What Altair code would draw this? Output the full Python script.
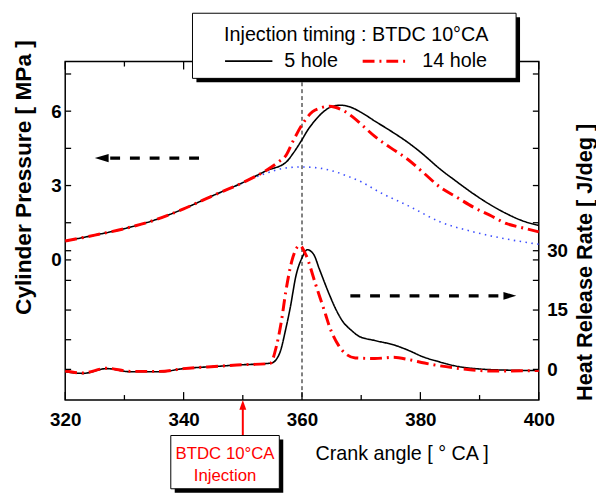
import altair as alt
import pandas as pd

FONT = "Liberation Sans"

# ---------------- data ----------------
p_crank_5 = [320, 325, 330, 335, 340, 345, 350, 354, 357.3, 358.5, 360, 361, 362.3, 363.5, 365, 366.5,
             368, 370, 372.3, 375, 378, 380, 383.4, 386, 389, 392, 394.6, 397, 400]
p_5 = [0.76, 1.0, 1.26, 1.6, 2.06, 2.6, 3.12, 3.6, 3.94, 4.3, 4.85, 5.25, 5.65, 5.95, 6.18, 6.24,
       6.18, 5.95, 5.6, 5.2, 4.72, 4.35, 3.65, 3.18, 2.66, 2.2, 1.86, 1.6, 1.39]

p_crank_14 = [320, 325, 330, 335, 340, 345, 350, 354, 356, 357.3, 358.5, 360, 361.8, 363, 364.6, 365.6,
              367, 368.5, 370.1, 372.3, 375, 377.9, 380.5, 383.4, 386, 389, 392, 394.6, 397, 400]
p_14 = [0.76, 1.0, 1.26, 1.6, 2.06, 2.6, 3.12, 3.62, 3.95, 4.22, 4.8, 5.45, 5.98, 6.12, 6.2, 6.16,
        6.02, 5.78, 5.45, 4.98, 4.52, 4.05, 3.52, 2.92, 2.55, 2.12, 1.77, 1.46, 1.31, 1.13]

m_crank = [346, 349, 352, 354, 357, 360, 363, 365, 368, 370, 373.2, 377.9, 383.4, 389, 394.6, 400]
m_p = [2.7, 3.0, 3.33, 3.5, 3.7, 3.75, 3.7, 3.6, 3.35, 3.15, 2.72, 2.19, 1.53, 1.13, 0.84, 0.63]

h_crank_5 = [320, 323, 327, 331, 336, 340, 346, 349, 354.8, 356.2, 357.3, 358, 359, 360, 360.9, 362,
             362.9, 364.6, 365.7, 366.8, 368.4, 369.6, 372.3, 375.7, 378, 380.4, 383, 386.5, 390, 395, 400]
h_5 = [-0.6, -1.0, 0.2, -0.6, -0.6, 0.2, 0.8, 1.1, 1.6, 4.0, 10.5, 15.5, 23.8, 28.2, 30.25, 29.0,
       25.5, 19.0, 15.25, 12.3, 9.8, 8.4, 7.3, 6.1, 4.8, 3.2, 2.0, 0.7, 0.1, -0.2, -0.3]

h_crank_14 = [320, 323, 327, 331, 336, 340, 346, 349, 354.6, 355.7, 356.5, 357.3, 358.3, 359.6, 360.7,
              362.3, 364, 364.6, 366.2, 367.5, 369, 372.3, 375.4, 378, 380.7, 386.5, 392, 400]
h_14 = [-0.4, -0.9, 0.3, -0.5, -0.5, 0.2, 0.8, 1.1, 1.5, 6.0, 12.0, 20.0, 27.5, 31.3, 28.8,
        21.5, 13.8, 11.0, 6.0, 3.8, 2.9, 2.75, 3.05, 2.5, 1.6, 0.25, -0.4, -0.3]

series_names = ["5 hole", "14 hole"]
x_major = [320, 340, 360, 380, 400]
x_minor = [330, 350, 370, 390]
p_labels = [0, 3, 6]
p_minor = [1.5, 4.5, 7.5]
h_labels = [0, 15, 30]
h_minor = [7.5, 22.5]

W, H = 480, 343

# ---------------- scales / axes ----------------
x_scale = alt.Scale(domain=[320, 400], nice=False, zero=False)
x_axis = alt.Axis(values=x_major, ticks=False, domain=False, grid=False, labelFlush=False,
                  labelFont=FONT, labelFontSize=19, labelFontWeight="bold", labelPadding=11,
                  title="Crank angle [ ° CA ]", titleFont=FONT, titleFontSize=20,
                  titleFontWeight="normal", titleX=341, titleY=54, titleAlign="center",
                  titleBaseline="middle")
p_scale = alt.Scale(domain=[-5.65, 8.0], nice=False, zero=False)
p_axis = alt.Axis(orient="left", values=p_labels, ticks=False, domain=False, grid=False,
                  labelFont=FONT, labelFontSize=19, labelFontWeight="bold", labelPadding=4,
                  title="Cylinder Pressure [ MPa ]", titleFont=FONT, titleFontSize=23,
                  titleFontWeight="bold", titleX=-42, titleY=117, titleAngle=270,
                  titleAlign="center", titleBaseline="middle", titleLimit=400)
h_scale = alt.Scale(domain=[-7.73, 77.8], nice=False, zero=False)
h_axis = alt.Axis(orient="right", values=h_labels, ticks=False, domain=False, grid=False,
                  labelFont=FONT, labelFontSize=19, labelFontWeight="bold", labelPadding=8,
                  title="Heat Release Rate [ J/deg ]", titleFont=FONT, titleFontSize=22,
                  titleFontWeight="bold", titleX=46, titleY=203, titleAngle=270,
                  titleAlign="center", titleBaseline="middle", titleLimit=400)


def X(f):
    return alt.X(f, type="quantitative", scale=x_scale, axis=x_axis)


def YP(f):
    return alt.Y(f, type="quantitative", scale=p_scale, axis=p_axis)


def YH(f):
    return alt.Y(f, type="quantitative", scale=h_scale, axis=h_axis)


legend = alt.Legend(orient="none", legendX=161, legendY=-37, direction="horizontal",
                    title="Injection timing : BTDC 10°CA", titleFont=FONT, titleFontSize=20,
                    titleFontWeight="normal", titleColor="black", titlePadding=-9, titleAnchor="start",
                    titleLimit=500, labelLimit=200,
                    labelFont=FONT, labelFontSize=20, labelColor="black", symbolType="stroke",
                    symbolSize=2304, labelOffset=11, columnPadding=18, padding=0)
color = alt.Color("series:N", scale=alt.Scale(domain=series_names, range=["black", "red"]), legend=legend)
dash = alt.StrokeDash("series:N", scale=alt.Scale(domain=series_names, range=[[1, 0], [12, 5, 2, 5]]),
                      legend=legend)
width = alt.StrokeWidth("series:N", scale=alt.Scale(type="ordinal", domain=series_names, range=[1.6, 3]),
                        legend=legend)

p_df = pd.concat([
    pd.DataFrame({"crank": p_crank_5, "v": p_5, "series": "5 hole"}),
    pd.DataFrame({"crank": p_crank_14, "v": p_14, "series": "14 hole"}),
])
h_df = pd.concat([
    pd.DataFrame({"crank": h_crank_5, "v": h_5, "series": "5 hole"}),
    pd.DataFrame({"crank": h_crank_14, "v": h_14, "series": "14 hole"}),
])
m_df = pd.DataFrame({"crank": m_crank, "v": m_p})

# ---------------- pressure group ----------------
blue = alt.Chart(m_df).mark_line(color="#3b4dff", strokeDash=[1.5, 4.5], strokeWidth=1.6,
                                 interpolate="monotone").encode(x=X("crank"), y=YP("v"))
p_lines = alt.Chart(p_df).mark_line(interpolate="monotone").encode(
    x=X("crank"), y=YP("v"), color=color, strokeDash=dash, strokeWidth=width)

p_tick_df = pd.DataFrame({"v": p_labels + p_minor})
h_tick_df = pd.DataFrame({"v": h_labels + h_minor})
tick_style = dict(color="black", strokeWidth=1.3)
p_ticks_l = alt.Chart(p_tick_df).mark_rule(**tick_style).encode(y=YP("v"), x=alt.value(0), x2=alt.value(6))
p_ticks_r = alt.Chart(p_tick_df).mark_rule(**tick_style).encode(y=YP("v"), x=alt.value(W), x2=alt.value(W - 6))

larrow_df = pd.DataFrame({"x1": [342.6], "x2": [326.5], "tip": [325.0], "y": [4.11]})
larrow = alt.Chart(larrow_df).mark_rule(color="black", strokeWidth=3.3, strokeDash=[10, 10],
                                        strokeCap="butt").encode(x=X("x1"), x2="x2", y=YP("y"))
lhead = alt.Chart(larrow_df).mark_point(shape="M0,0L2,-0.6L2,0.6Z", size=196, filled=True,
                                        color="black", opacity=1).encode(x=X("tip"), y=YP("y"))

pressure_group = alt.layer(blue, p_lines, p_ticks_l, p_ticks_r, larrow, lhead)

# ---------------- heat release group ----------------
h_lines = alt.Chart(h_df).mark_line(interpolate="monotone").encode(
    x=X("crank"), y=YH("v"), color=color, strokeDash=dash, strokeWidth=width)
h_ticks_r = alt.Chart(h_tick_df).mark_rule(**tick_style).encode(y=YH("v"), x=alt.value(W), x2=alt.value(W - 6))
h_ticks_l = alt.Chart(h_tick_df).mark_rule(**tick_style).encode(y=YH("v"), x=alt.value(0), x2=alt.value(6))
rarrow_df = pd.DataFrame({"x1": [368.17], "x2": [394.5], "tip": [396.2], "y": [18.6]})
rarrow = alt.Chart(rarrow_df).mark_rule(color="black", strokeWidth=3.3, strokeDash=[10, 10],
                                        strokeCap="butt").encode(x=X("x1"), x2="x2", y=YH("y"))
rhead = alt.Chart(rarrow_df).mark_point(shape="M0,0L-2,-0.6L-2,0.6Z", size=169, filled=True,
                                        color="black", opacity=1).encode(x=X("tip"), y=YH("y"))
hrr_group = alt.layer(h_lines, h_ticks_r, h_ticks_l, rarrow, rhead)

# ---------------- decorations on x ----------------
xt_major = pd.DataFrame({"v": x_major})
xt_minor = pd.DataFrame({"v": x_minor})
xb_major = alt.Chart(xt_major).mark_rule(**tick_style).encode(x=X("v"), y=alt.value(H), y2=alt.value(H - 8))
xb_minor = alt.Chart(xt_minor).mark_rule(**tick_style).encode(x=X("v"), y=alt.value(H), y2=alt.value(H - 5))
xtop_major = alt.Chart(xt_major).mark_rule(**tick_style).encode(x=X("v"), y=alt.value(0), y2=alt.value(8))
xtop_minor = alt.Chart(xt_minor).mark_rule(**tick_style).encode(x=X("v"), y=alt.value(0), y2=alt.value(5))

tdc = alt.Chart(pd.DataFrame({"v": [360]})).mark_rule(color="black", strokeWidth=1, strokeDash=[4, 3]).encode(
    x=X("v"), y=alt.value(0), y2=alt.value(H))

one = pd.DataFrame({"a": [0]})
box_shadow = alt.Chart(one).mark_rect(color="black").encode(
    x=alt.value(133), x2=alt.value(461), y=alt.value(-45), y2=alt.value(21))
box = alt.Chart(one).mark_rect(fill="white", stroke="black", strokeWidth=1).encode(
    x=alt.value(129), x2=alt.value(457), y=alt.value(-49), y2=alt.value(17))

inj_df = pd.DataFrame({"v": [350]})
inj_line = alt.Chart(inj_df).mark_rule(color="red", strokeWidth=2).encode(
    x=X("v"), y=alt.value(379), y2=alt.value(351))
inj_head = alt.Chart(inj_df).mark_point(shape="M0,0L-0.7,2L0.7,2Z", size=100, filled=True,
                                        color="red", opacity=1).encode(x=X("v"), y=alt.value(H))
ibox_shadow = alt.Chart(one).mark_rect(color="black").encode(
    x=alt.value(111), x2=alt.value(221), y=alt.value(383), y2=alt.value(437))
ibox = alt.Chart(one).mark_rect(fill="white", stroke="black", strokeWidth=1).encode(
    x=alt.value(107), x2=alt.value(217), y=alt.value(379), y2=alt.value(433))
ann_lines = ["BTDC 10°CA", "Injection"]
ann_df = pd.DataFrame({"t": ann_lines, "row": [0, 1]})
ann1 = alt.Chart(ann_df.iloc[[0]]).mark_text(color="red", font=FONT, fontSize=17, align="center",
                                              baseline="alphabetic").encode(
    text="t:N", x=alt.value(162), y=alt.value(403))
ann2 = alt.Chart(ann_df.iloc[[1]]).mark_text(color="red", font=FONT, fontSize=17, align="center",
                                              baseline="alphabetic").encode(
    text="t:N", x=alt.value(162), y=alt.value(425))

chart = alt.layer(
    tdc, pressure_group, hrr_group,
    xb_major, xb_minor, xtop_major, xtop_minor,
    box_shadow, box,
    inj_line, inj_head, ibox_shadow, ibox, ann1, ann2,
).resolve_scale(y="independent").properties(
    width=W, height=H,
    autosize=alt.AutoSizeParams(type="none"),
    padding={"left": 58, "top": 51, "right": 58, "bottom": 94},
).configure_view(stroke="black", strokeWidth=1.5).configure_axis(
    labelColor="black", titleColor="black")

chart.save("out.html", embed_options={"renderer": "svg", "actions": False})
